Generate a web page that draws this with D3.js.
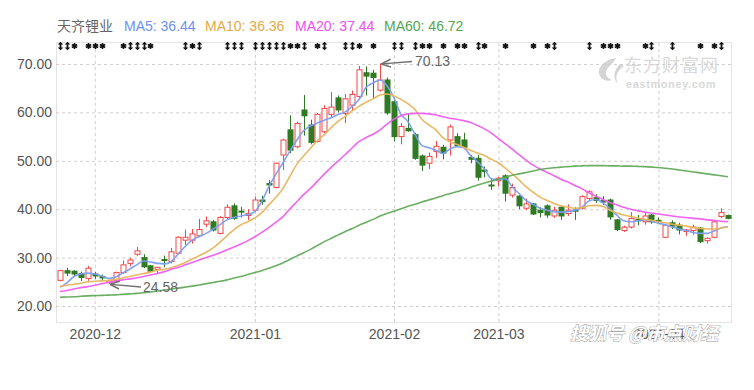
<!DOCTYPE html>
<html>
<head>
<meta charset="utf-8">
<script src="https://cdn.jsdelivr.net/npm/d3@7"></script>
<style>
  body { margin: 0; background: #fff; }
  svg { display: block; font-family: "Liberation Sans", Arial, "Noto Sans CJK SC", sans-serif; }
</style>
</head>
<body>
<div id="chart"></div>
<script>
// trading days shown on the chart
let dates = ["2020-11-24","2020-11-25","2020-11-26","2020-11-27","2020-11-30",
  "2020-12-01","2020-12-02","2020-12-03","2020-12-04","2020-12-07","2020-12-08","2020-12-09","2020-12-10","2020-12-11",
  "2020-12-14","2020-12-15","2020-12-16","2020-12-17","2020-12-18","2020-12-21","2020-12-22","2020-12-23","2020-12-24",
  "2020-12-25","2020-12-28","2020-12-29","2020-12-30","2020-12-31",
  "2021-01-04","2021-01-05","2021-01-06","2021-01-07","2021-01-08","2021-01-11","2021-01-12","2021-01-13","2021-01-14",
  "2021-01-15","2021-01-18","2021-01-19","2021-01-20","2021-01-21","2021-01-22","2021-01-25","2021-01-26","2021-01-27",
  "2021-01-28","2021-01-29",
  "2021-02-01","2021-02-02","2021-02-03","2021-02-04","2021-02-05","2021-02-08","2021-02-09","2021-02-10","2021-02-18",
  "2021-02-19","2021-02-22","2021-02-23","2021-02-24","2021-02-25","2021-02-26",
  "2021-03-01","2021-03-02","2021-03-03","2021-03-04","2021-03-05","2021-03-08","2021-03-09","2021-03-10","2021-03-11",
  "2021-03-12","2021-03-15","2021-03-16","2021-03-17","2021-03-18","2021-03-19","2021-03-22","2021-03-23","2021-03-24",
  "2021-03-25","2021-03-26","2021-03-29","2021-03-30","2021-03-31",
  "2021-04-01","2021-04-02","2021-04-06","2021-04-07","2021-04-08","2021-04-09","2021-04-12","2021-04-13","2021-04-14",
  "2021-04-15","2021-04-16"];

let open  = [25.3,27.3,27.2,26.7,25.7, 26.6,26.1,24.8,25.2,26.9,28.8,30.7,30.0,28.3,27.6,29.6,29.2,30.9,33.6,33.6,34.5,36.9,37.4,35.0,38.3,40.7,39.6,38.7,
  39.8,41.9,45.3,44.5,51.2,56.4,52.9,60.5,57.4,54.0,56.0,59.6,63.0,59.8,61.5,63.3,68.2,68.1,64.6,66.7,
  62.2,55.0,56.7,55.4,51.0,49.5,51.9,52.8,54.3,55.0,54.3,50.7,50.5,48.1,45.0,
  45.9,46.9,42.9,42.7,40.2,41.1,39.8,40.7,38.6,40.4,39.1,39.8,40.2,42.2,42.4,41.8,41.9,37.8,35.6,36.3,37.9,37.4,38.8,
  37.7,34.2,37.2,36.7,35.4,35.6,36.1,33.5,34.2,38.5,38.7];
let high  = [27.5,27.9,27.4,27.1,28.3, 27.0,26.5,25.4,27.1,29.4,30.0,32.2,30.7,28.5,28.0,30.4,32.0,34.4,35.8,35.9,38.0,38.5,37.8,38.6,41.0,41.2,40.5,40.0,
  42.6,42.8,46.0,49.6,54.6,59.4,58.1,63.6,58.5,59.9,61.5,64.2,63.5,63.8,64.5,69.6,69.5,68.8,70.13,67.2,
  62.5,57.8,59.8,55.8,51.3,51.7,54.1,53.3,57.5,55.7,55.8,51.2,51.2,48.8,46.4,
  46.7,47.2,45.3,42.9,42.2,41.3,40.4,41.0,40.5,40.7,41.0,40.4,42.9,43.9,43.1,42.7,42.2,38.0,36.6,39.4,38.8,39.2,39.0,
  38.3,36.9,37.7,37.2,35.9,36.8,36.3,34.2,37.6,40.2,38.9];
let low   = [25.1,26.2,26.0,25.2,25.2, 25.6,25.2,24.58,25.0,26.7,28.2,30.3,27.8,26.8,26.6,28.0,28.8,30.7,32.6,32.9,34.2,36.3,35.4,34.8,38.0,37.8,38.3,37.8,
  39.5,40.9,43.2,44.3,48.1,51.6,52.6,55.2,53.4,53.8,55.7,59.0,60.0,57.8,60.4,63.0,63.5,63.0,64.3,59.5,
  54.0,53.4,56.0,50.2,47.9,48.3,50.6,50.3,51.1,52.9,52.4,49.5,45.9,46.6,44.0,
  44.7,41.6,42.4,40.0,39.8,38.8,38.3,38.2,38.2,37.8,38.6,37.8,39.9,41.9,41.3,40.9,37.8,35.5,35.3,36.0,36.7,36.8,37.0,
  37.0,34.0,35.9,34.8,34.5,34.7,33.0,32.9,34.0,38.2,37.9];
let close = [27.3,26.8,26.6,25.9,27.8, 26.2,25.8,25.2,26.9,28.5,29.5,31.4,28.1,27.2,28.0,29.4,31.2,34.2,34.2,34.9,35.8,37.6,35.7,38.3,40.4,38.1,39.4,39.1,
  41.9,41.6,45.0,49.5,54.3,52.2,57.7,59.3,53.8,59.6,60.8,61.1,60.5,62.8,63.7,68.8,67.5,67.2,66.7,59.9,
  55.0,57.1,56.2,50.5,49.1,50.9,53.0,51.6,57.0,53.1,52.8,50.3,46.6,47.8,44.8,
  46.4,43.3,44.5,40.7,41.1,39.0,39.3,38.8,39.8,38.6,39.8,39.6,42.6,43.6,41.8,41.5,38.4,35.8,36.3,38.1,37.6,38.6,37.4,
  37.5,36.7,36.5,35.7,35.7,36.3,33.3,34.0,37.4,39.3,38.1];

let ma5 = [23.9,24.8,26.1,26.6,26.8,26.6,26.2,25.7,26.0,26.8,27.6,28.5,29.3,29.1,28.8,28.7,29.2,30.8,32.3,33.6,34.4,35.0,35.9,36.8,37.8,38.3,38.6,38.9,
  39.5,41.6,44.6,47.2,49.5,51.9,54.2,56.2,57.2,57.8,58.4,58.9,59.6,60.1,61.3,62.7,65.2,66.1,66.7,65.5,
  63.0,59.6,58.1,55.5,53.2,52.7,52.2,51.5,52.4,52.9,52.7,51.1,49.8,48.3,46.3,
  46.1,46.3,44.6,43.2,41.8,41.0,40.2,39.8,39.5,39.4,39.5,39.8,40.4,41.7,42.0,41.3,40.2,38.8,37.6,37.4,37.6,37.8,37.5,
  37.1,36.8,36.3,35.9,35.6,35.2,35.0,35.0,35.5,36.1,36.44];
let ma10 = [24.0,24.3,24.5,24.7,25.0,25.1,25.2,25.3,25.5,25.8,26.1,26.4,26.7,27.0,27.4,27.6,27.9,28.4,29.0,29.7,30.4,31.1,32.0,33.2,34.5,35.8,36.8,37.4,
  38.2,39.3,40.9,42.4,44.2,46.7,49.2,51.0,52.6,54.2,55.4,56.9,58.2,59.2,60.3,61.3,62.1,62.8,63.6,63.8,
  63.4,62.7,61.8,60.6,58.6,57.4,56.4,54.8,54.0,53.4,52.8,52.2,51.6,51.1,50.3,
  49.6,48.5,47.3,46.0,44.6,43.5,42.5,41.8,41.2,40.7,40.4,40.2,40.3,40.7,40.8,40.6,39.8,39.2,38.8,38.5,38.2,37.9,37.7,
  37.4,37.2,36.9,36.7,36.5,36.2,36.0,35.9,35.9,36.1,36.36];
let ma20 = [23.0,23.2,23.5,23.8,24.0,24.3,24.6,24.9,25.1,25.4,25.6,25.8,26.1,26.4,26.7,27.1,27.6,28.0,28.5,29.0,29.5,30.0,30.5,31.0,31.6,32.2,32.8,33.5,
  34.3,35.2,36.2,37.3,38.4,40.0,41.5,43.0,44.3,45.8,47.3,48.7,50.0,51.3,52.7,54.0,54.8,55.5,56.4,57.6,
  58.6,59.3,59.7,59.8,59.8,59.7,59.5,59.1,58.8,58.6,58.3,57.9,57.3,56.6,55.7,
  54.6,53.5,52.4,51.2,50.1,49.1,48.3,47.6,46.9,46.2,45.6,44.9,44.2,43.4,42.7,42.0,41.4,40.9,40.4,40.0,39.7,39.4,39.2,
  39.0,38.8,38.6,38.4,38.3,38.1,38.0,37.8,37.7,37.5,37.44];
let ma60 = [21.8,21.85,21.9,22.0,22.1,22.15,22.2,22.25,22.3,22.4,22.5,22.6,22.75,22.9,23.1,23.3,23.5,23.7,23.9,24.1,24.35,24.6,24.85,25.1,25.4,25.8,26.1,26.5,
  26.9,27.3,27.8,28.3,28.9,29.6,30.3,31.0,31.7,32.5,33.3,34.0,34.7,35.4,36.0,36.7,37.3,37.9,38.6,39.1,
  39.6,40.1,40.6,41.0,41.5,41.9,42.3,42.8,43.2,43.6,44.0,44.5,45.0,45.4,45.8,
  46.2,46.6,47.0,47.3,47.6,47.9,48.2,48.4,48.55,48.7,48.8,48.9,48.95,49.0,49.0,49.0,48.95,48.95,48.9,48.9,48.85,48.8,48.7,
  48.6,48.45,48.3,48.1,47.9,47.7,47.5,47.3,47.1,46.9,46.72];

let yTicks = [20, 30, 40, 50, 60, 70];

// event markers in the top strip: candle index and glyph kind (a = double arrow, s = burst)
let markerIdx  = [0,1,2, 4,5,6, 9,10,11,12,13, 18,19,20, 24,25,26, 28,29,30,31,32,33,34,35, 37,38, 41,42,43, 45,
  48,49, 51,52,53, 55, 57,58, 60,61, 64, 68, 70,71, 76, 78,79,80, 84,85, 88, 92, 94,95];
let markerKind = ["a","a","s", "s","s","s", "s","a","a","a","s", "a","s","a", "a","a","a", "a","a","a","a","a","s","s","a", "s","a", "a","a","s", "s",
  "a","a", "a","s","s", "s", "s","s", "a","s", "s", "s", "s","a", "a", "s","s","s", "s","a", "a", "s", "s","a"];

let seriesName = ["MA5", "MA10", "MA20", "MA60"];
let seriesColor = ["#7b9ef4", "#e8b45a", "#f05cf0", "#62aa5c"];
let legendColor = ["#6e90f2", "#e3aa45", "#f04ef0", "#55a552"];

const W = 754, H = 390;
const box = {l: 56, r: 731, t: 42, b: 322};
const upColor = "#f04848", downColor = "#2f7a22";

const svg = d3.select("#chart").append("svg").attr("width", W).attr("height", H);

const x = d3.scaleLinear().domain([0, dates.length - 1]).range([60, 728]);
const y = d3.scaleLinear().domain([20, 70]).range([306, 64]);

// first trading day of each month (skipping the first, partial one)
let monthIdx = [];
dates.forEach((d, i) => { if (i > 0 && d.slice(0, 7) !== dates[i - 1].slice(0, 7)) monthIdx.push(i); });

// watermark eastmoney
const em = svg.append("g").attr("fill", "#d9d9d9");
em.append("path")
  .attr("d", "M616,58 C604,60 596,68 600,76 C602,80 608,82 612,80 C606,78 604,72 608,68 C611,64 615,61 616,58 Z M620,64 C614,70 612,78 618,84 C614,76 618,70 624,66 Z")
  .attr("fill", "#d4d4d4");
em.append("text").attr("x", 624).attr("y", 72).attr("font-size", 18)
  .attr("font-family", "'Noto Sans CJK SC', sans-serif").attr("letter-spacing", 1).text("东方财富网");
em.append("text").attr("x", 626).attr("y", 88).attr("font-size", 11).attr("font-weight", "bold")
  .attr("letter-spacing", 0.6).text("eastmoney.com");

// frame
svg.append("rect").attr("x", box.l + 0.5).attr("y", box.t + 0.5)
  .attr("width", box.r - box.l).attr("height", box.b - box.t)
  .attr("fill", "none").attr("stroke", "#e4e4e4");

// horizontal grid
svg.append("g").attr("transform", `translate(${box.l},0)`)
  .call(d3.axisLeft(y).tickValues(yTicks).tickSize(-(box.r - box.l)).tickFormat(""))
  .call(g => g.select(".domain").remove())
  .call(g => g.selectAll("line").attr("stroke", "#cfcfcf").attr("stroke-dasharray", "3,3"));

// vertical grid at month starts
svg.append("g").attr("transform", `translate(0,${box.b})`)
  .call(d3.axisBottom(x).tickValues(monthIdx).tickSize(-(box.b - box.t)).tickFormat(""))
  .call(g => g.select(".domain").remove())
  .call(g => g.selectAll("line").attr("stroke", "#cfcfcf").attr("stroke-dasharray", "3,3"));

// y labels
svg.append("g").attr("transform", `translate(${box.l},0)`)
  .call(d3.axisLeft(y).tickValues(yTicks).tickSize(0).tickPadding(4).tickFormat(d3.format(".2f")))
  .call(g => g.select(".domain").remove())
  .call(g => g.selectAll("text").attr("font-size", 14).attr("fill", "#555").attr("font-family", null));

// x labels
svg.append("g").attr("transform", `translate(0,${box.b})`)
  .call(d3.axisBottom(x).tickValues(monthIdx).tickSize(0).tickPadding(7).tickFormat(i => dates[i].slice(0, 7)))
  .call(g => g.select(".domain").remove())
  .call(g => g.selectAll("text").attr("font-size", 14).attr("fill", "#555").attr("font-family", null));

// event markers strip
const mk = svg.append("g").attr("fill", "#111");
const arrowGlyph = "M0,-4.2 L2.8,-1.4 L0.9,-1.4 L0.9,1.4 L2.8,1.4 L0,4.2 L-2.8,1.4 L-0.9,1.4 L-0.9,-1.4 L-2.8,-1.4 Z";
markerIdx.forEach((idx, k) => {
  const cx = Math.round(x(idx)) + 0.5;
  if (markerKind[k] === "a") {
    mk.append("path").attr("d", arrowGlyph).attr("transform", `translate(${cx},46)`);
  } else {
    mk.append("path").attr("d", d3.symbol(d3.symbolAsterisk, 26)())
      .attr("transform", `translate(${cx},46)`).attr("stroke", "#111").attr("stroke-width", 1.6);
    mk.append("circle").attr("cx", cx).attr("cy", 46).attr("r", 1.8);
  }
});

// candles
const candles = svg.append("g");
dates.forEach((d, i) => {
  const up = close[i] >= open[i];
  const col = up ? upColor : downColor;
  const cx = Math.round(x(i)) + 0.5;
  candles.append("line").attr("x1", cx).attr("x2", cx)
    .attr("y1", y(high[i])).attr("y2", y(low[i])).attr("stroke", col).attr("stroke-width", 1);
  const top = y(Math.max(open[i], close[i]));
  const h = Math.max(1, Math.abs(y(open[i]) - y(close[i])));
  if (up) {
    candles.append("rect").attr("x", cx - 2.5).attr("y", top).attr("width", 5).attr("height", h)
      .attr("fill", "#fff").attr("stroke", col).attr("stroke-width", 1);
  } else {
    candles.append("rect").attr("x", cx - 3).attr("y", top - 0.5).attr("width", 6).attr("height", h + 1)
      .attr("fill", col);
  }
});

// moving averages
const line = d3.line().x((d, i) => x(i)).y(d => y(d)).curve(d3.curveMonotoneX);
[ma5, ma10, ma20, ma60].forEach((s, k) => {
  svg.append("path").datum(s).attr("d", line).attr("fill", "none")
    .attr("stroke", seriesColor[k]).attr("stroke-width", 1.6).attr("stroke-opacity", 0.95);
});

// legend
const lg = svg.append("g").attr("font-size", 14);
lg.append("text").attr("x", 57).attr("y", 31).attr("fill", "#666")
  .attr("font-family", "'Noto Sans CJK SC', sans-serif").text("天齐锂业");
const lgX = [124, 205, 295, 384];
[ma5, ma10, ma20, ma60].forEach((s, k) => {
  lg.append("text").attr("x", lgX[k]).attr("y", 31).attr("fill", legendColor[k])
    .text(`${seriesName[k]}: ${d3.format(".2f")(s[s.length - 1])}`);
});

// max / min annotations
svg.append("defs").append("marker").attr("id", "arr").attr("viewBox", "0 0 10 10")
  .attr("refX", 9).attr("refY", 5).attr("markerWidth", 7).attr("markerHeight", 7).attr("orient", "auto")
  .append("path").attr("d", "M0,1 L10,5 L0,9").attr("fill", "none").attr("stroke", "#707070").attr("stroke-width", 1.6);

const hiI = d3.maxIndex(high), loI = d3.minIndex(low);
svg.append("line").attr("x1", 412).attr("y1", 61.5).attr("x2", x(hiI) + 2).attr("y2", y(high[hiI]) + 0.5)
  .attr("stroke", "#707070").attr("stroke-width", 1.4).attr("marker-end", "url(#arr)");
svg.append("text").attr("x", 415).attr("y", 66).attr("font-size", 14).attr("fill", "#666")
  .text(d3.format(".2f")(high[hiI]));

svg.append("line").attr("x1", 141).attr("y1", 287).attr("x2", x(loI) + 2).attr("y2", y(low[loI]) + 0.5)
  .attr("stroke", "#707070").attr("stroke-width", 1.4).attr("marker-end", "url(#arr)");
svg.append("text").attr("x", 143).attr("y", 292).attr("font-size", 14).attr("fill", "#666")
  .text(d3.format(".2f")(low[loI]));

// sohu watermark (lies over the last month label, as in the source image)
svg.append("text").attr("x", 570).attr("y", 340).attr("font-size", 18).attr("font-style", "italic")
  .attr("font-weight", "bold").attr("font-family", "'Noto Sans CJK SC', sans-serif")
  .attr("fill", "#fff").attr("stroke", "#9a9a9a").attr("stroke-width", 0.9).attr("paint-order", "stroke")
  .text("搜狐号 @市点财经");
</script>
</body>
</html>
